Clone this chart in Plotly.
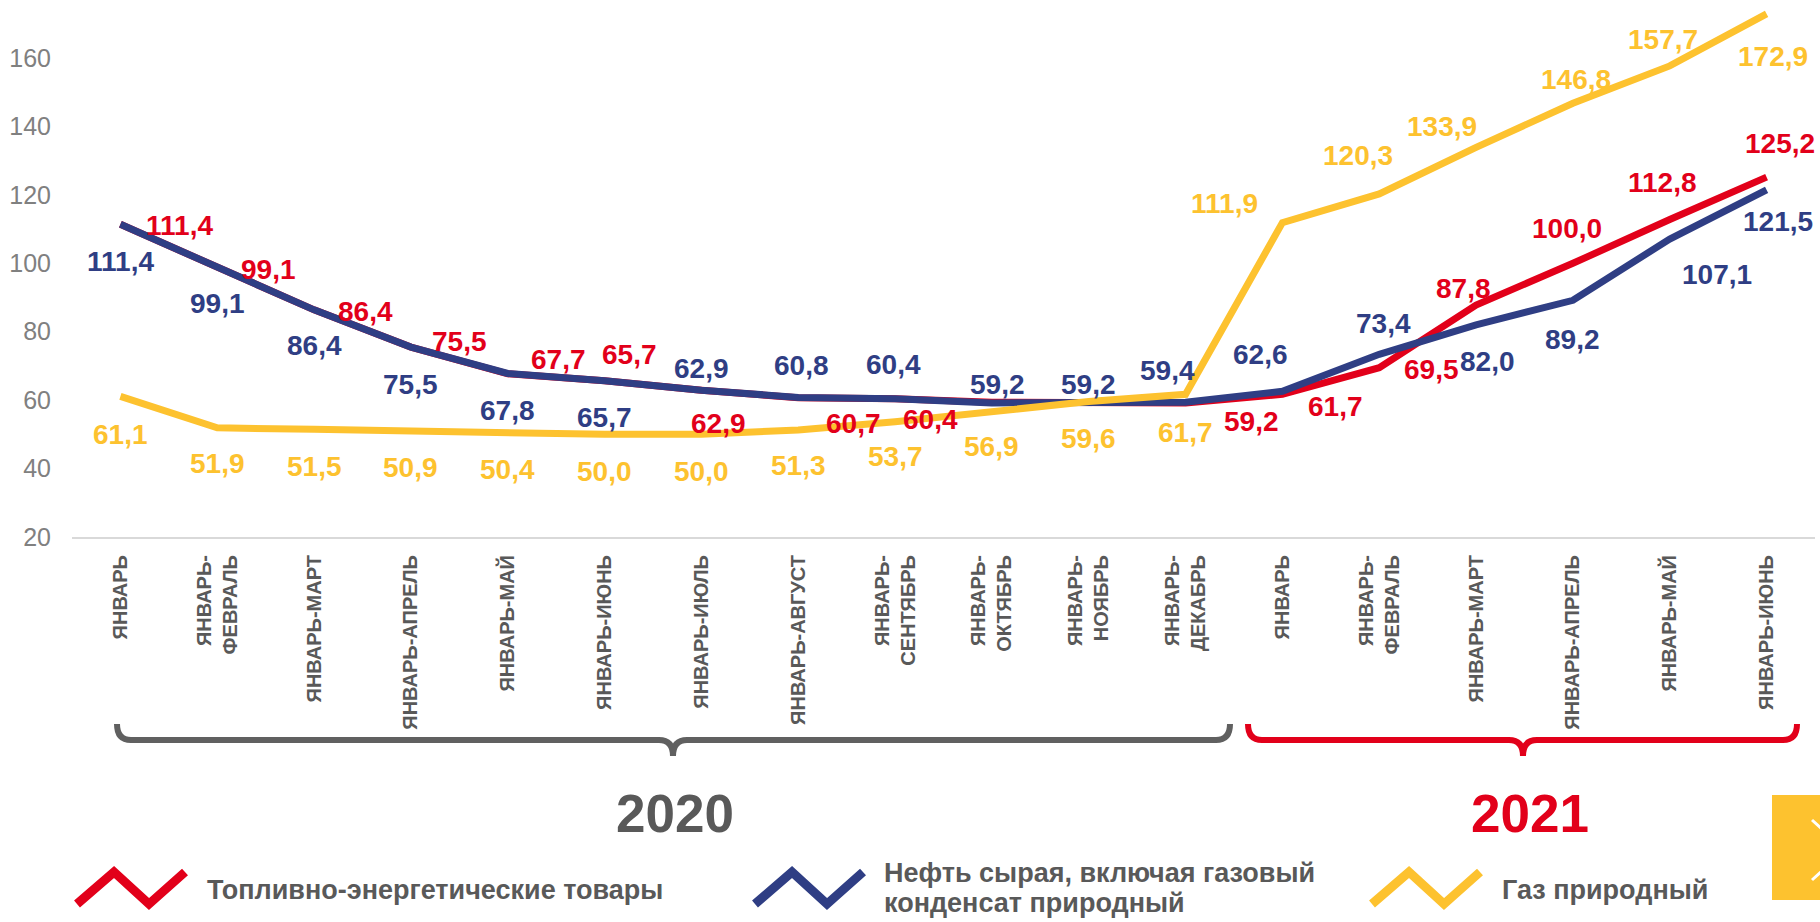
import plotly.graph_objects as go

# --- data -------------------------------------------------------------
months = ["ЯНВАРЬ", "ЯНВАРЬ-<br>ФЕВРАЛЬ", "ЯНВАРЬ-МАРТ", "ЯНВАРЬ-АПРЕЛЬ",
          "ЯНВАРЬ-МАЙ", "ЯНВАРЬ-ИЮНЬ", "ЯНВАРЬ-ИЮЛЬ", "ЯНВАРЬ-АВГУСТ",
          "ЯНВАРЬ-<br>СЕНТЯБРЬ", "ЯНВАРЬ-<br>ОКТЯБРЬ", "ЯНВАРЬ-<br>НОЯБРЬ",
          "ЯНВАРЬ-<br>ДЕКАБРЬ",
          "ЯНВАРЬ", "ЯНВАРЬ-<br>ФЕВРАЛЬ", "ЯНВАРЬ-МАРТ", "ЯНВАРЬ-АПРЕЛЬ",
          "ЯНВАРЬ-МАЙ", "ЯНВАРЬ-ИЮНЬ"]

fuel = [111.4, 99.1, 86.4, 75.5, 67.7, 65.7, 62.9, 60.7, 60.4, 59.4, 59.3, 59.2,
        61.7, 69.5, 87.8, 100.0, 112.8, 125.2]
fuel_labeled = [True] * 9 + [False, False] + [True] * 7

oil = [111.4, 99.1, 86.4, 75.5, 67.8, 65.7, 62.9, 60.8, 60.4, 59.2, 59.2, 59.4,
       62.6, 73.4, 82.0, 89.2, 107.1, 121.5]

gas = [61.1, 51.9, 51.5, 50.9, 50.4, 50.0, 50.0, 51.3, 53.7, 56.9, 59.6, 61.7,
       111.9, 120.3, 133.9, 146.8, 157.7, 172.9]

y_ticks = [20, 40, 60, 80, 100, 120, 140, 160]

names = ["Топливно-энергетические товары",
         "Нефть сырая, включая газовый<br>конденсат природный",
         "Газ природный"]
years = ["2020", "2021"]

# --- styling ----------------------------------------------------------
RED = "#E2001A"
BLUE = "#2F3E84"
YELLOW = "#FDC22F"
GREY = "#595959"
FONT = "Liberation Sans, Arial, sans-serif"

W, H = 1820, 922
ML, MR, MT, MB = 72, 5, 0, 385
PW, PH = W - ML - MR, H - MT - MB

# label offsets in pixels (dx right, dy down) from each point
fuel_off = [(59, 1), (51, 3), (51, 2), (49, -6), (51, -14), (25, -26), (17, 33),
            (55, 26), (35, 21), (0, 0), (0, 0), (66, 19), (53, 12), (52, 2),
            (-13, -17), (-6, -35), (-7, -37), (13, -34)]
oil_off = [(0, 37), (0, 37), (0, 36), (0, 37), (0, 37), (0, 37), (0, -22),
           (3, -32), (-2, -34), (6, -18), (0, -18), (-18, -32), (-22, -37),
           (4, -31), (11, 37), (0, 39), (47, 35), (11, 32)]
gas_off = [(0, 38), (0, 36), (0, 37), (0, 36), (0, 36), (0, 37), (0, 37),
           (0, 36), (0, 35), (0, 36), (0, 37), (0, 38), (-58, -19), (-21, -38),
           (-34, -21), (3, -24), (-7, -26), (6, 43)]


def px(x):
    return (x - ML) / PW


def py(y):
    return (MT + PH - y) / PH


def fmt(v):
    return f"{v:.1f}".replace(".", ",")


x = list(range(len(months)))

fig = go.Figure()
for vals, color, name in [(fuel, RED, names[0]), (oil, BLUE, names[1]), (gas, YELLOW, names[2])]:
    fig.add_trace(go.Scatter(
        x=x, y=vals, mode="lines", name=name.replace("<br>", " "),
        line=dict(color=color, width=7),
        hovertemplate="%{y:.1f}<extra></extra>",
        showlegend=False,
    ))

annotations = []
for vals, offs, color, shown in [(fuel, fuel_off, RED, fuel_labeled),
                                 (oil, oil_off, BLUE, [True] * len(oil)),
                                 (gas, gas_off, YELLOW, [True] * len(gas))]:
    for i, v in enumerate(vals):
        if not shown[i]:
            continue
        dx, dy = offs[i]
        annotations.append(dict(
            x=i, y=v, xref="x", yref="y", text=fmt(v), showarrow=False,
            xanchor="center", yanchor="middle",
            xshift=dx, yshift=-dy,
            font=dict(family=FONT, size=28, color=color, weight="bold"),
        ))


def note(xp, yp, text, font, xanchor="center"):
    return dict(x=px(xp), y=py(yp), xref="paper", yref="paper", text=text,
                xanchor=xanchor, yanchor="middle",
                showarrow=False, font=font)


# year captions
annotations.append(note(675, 813, years[0],
                        dict(family=FONT, size=53, color=GREY, weight="bold")))
annotations.append(note(1530, 813, years[1],
                        dict(family=FONT, size=53, color=RED, weight="bold")))

# custom legend text
legend_font = dict(family=FONT, size=27, color=GREY, weight="bold")
annotations.append(note(205, 890, names[0], legend_font, "left"))
line1, line2 = names[1].split("<br>")
annotations.append(note(882, 873, line1, legend_font, "left"))
annotations.append(note(882, 903, line2, legend_font, "left"))
annotations.append(note(1500, 890, names[2], legend_font, "left"))

shapes = []


def path(points):
    return "M " + " L ".join(f"{px(a):.5f},{py(b):.5f}" for a, b in points)


# zigzag legend icons
for x0, color in [(77, RED), (755, BLUE), (1372, YELLOW)]:
    pts = [(x0, 904), (x0 + 37, 872), (x0 + 72, 904), (x0 + 108, 872)]
    shapes.append(dict(type="path", xref="paper", yref="paper", path=path(pts),
                       line=dict(color=color, width=9)))


def brace(x0, x1, xm, color):
    yt, yl, yb, r = 724, 740, 756, 14
    d = (f"M {px(x0)},{py(yt)} Q {px(x0)},{py(yl)} {px(x0 + r)},{py(yl)} "
         f"L {px(xm - r)},{py(yl)} Q {px(xm)},{py(yl)} {px(xm)},{py(yb)} "
         f"Q {px(xm)},{py(yl)} {px(xm + r)},{py(yl)} "
         f"L {px(x1 - r)},{py(yl)} Q {px(x1)},{py(yl)} {px(x1)},{py(yt)}")
    return dict(type="path", xref="paper", yref="paper", path=d,
                line=dict(color=color, width=6))


shapes.append(brace(117, 1230, 673, "#606060"))
shapes.append(brace(1248, 1797, 1523, RED))

# yellow nav box at the right edge
shapes.append(dict(type="rect", xref="paper", yref="paper",
                   x0=px(1772), x1=px(1830), y0=py(900), y1=py(795),
                   fillcolor=YELLOW, line=dict(width=0)))
shapes.append(dict(type="path", xref="paper", yref="paper",
                   path=path([(1812, 820), (1845, 850), (1812, 880)]),
                   line=dict(color="white", width=3)))

fig.update_layout(
    width=W, height=H,
    margin=dict(l=ML, r=MR, t=MT, b=MB),
    plot_bgcolor="white", paper_bgcolor="white",
    showlegend=False,
    annotations=annotations,
    shapes=shapes,
    xaxis=dict(
        tickmode="array", tickvals=x, ticktext=months,
        range=[-0.5, len(months) - 0.5],
        tickangle=-90, ticks="", ticklabelstandoff=8,
        tickfont=dict(family=FONT, size=20, color=GREY, weight="bold"),
        showgrid=False, zeroline=False,
        showline=True, linecolor="#D9D9D9", linewidth=2,
    ),
    yaxis=dict(
        range=[20, 20 + PH / 3.421],
        tickmode="array", tickvals=y_ticks,
        ticks="", ticklabelstandoff=20,
        tickfont=dict(family=FONT, size=25, color="#808080"),
        showgrid=False, zeroline=False, showline=False,
    ),
)

# drop the browser's default body margin so the figure sits at the page corner
fig.write_html("out.html", config={"displayModeBar": False},
               post_script="document.body.style.margin='0';")
